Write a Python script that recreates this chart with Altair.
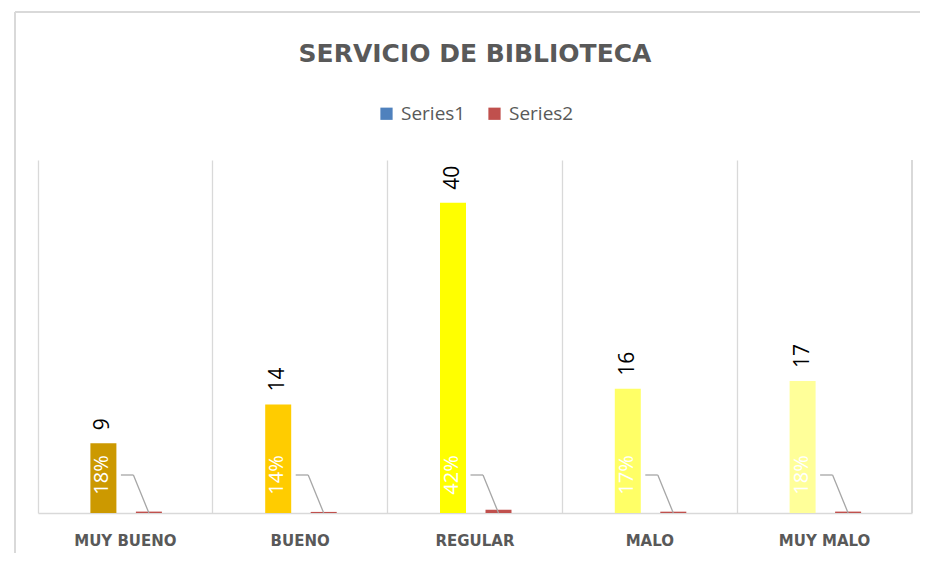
import altair as alt
import pandas as pd

categories = ["MUY BUENO", "BUENO", "REGULAR", "MALO", "MUY MALO"]
series1 = [9, 14, 40, 16, 17]
series2 = [0.18, 0.14, 0.42, 0.17, 0.18]
pct_labels = ["18%", "14%", "42%", "17%", "18%"]
bar_colors = ["#CC9900", "#FFCC00", "#FFFF00", "#FFFF66", "#FFFF99"]
series_names = ["Series1", "Series2"]
legend_colors = ["#4F81BD", "#C0504D"]

df1 = pd.DataFrame({"cat": categories, "value": series1, "color": bar_colors,
                    "pct": pct_labels, "series": "Series1"})
df2 = pd.DataFrame({"cat": categories, "value": series2, "series": "Series2"})

W, H = 874, 353
GRID = "#D9D9D9"
TXT = "#595959"
FONT = "Open Sans"
BOLD_FONT = "DejaVu Sans"

xenc = alt.X("cat:N", sort=categories, title=None,
             scale=alt.Scale(paddingInner=0, paddingOuter=0),
             axis=alt.Axis(labelAngle=0, labelFont=BOLD_FONT, labelFontSize=15,
                           labelFontWeight="bold", labelColor=TXT, labelPadding=20,
                           ticks=False, domainColor=GRID, domainWidth=1.3,
                           grid=True, gridColor=GRID, gridWidth=1.3, bandPosition=0))
yscale = alt.Scale(domain=[0, 45.5], nice=False)
yenc = alt.Y("value:Q", scale=yscale, axis=None)

base1 = alt.Chart(df1)
base2 = alt.Chart(df2)

bars1 = base1.mark_bar(width=26, xOffset=-22).encode(
    x=xenc, y=yenc, fill=alt.Fill("color:N", scale=None))

bars2 = base2.mark_bar(width=26, xOffset=23.5).encode(
    x=alt.X("cat:N", sort=categories), y=alt.Y("value:Q", scale=yscale),
    color=alt.Color("series:N", scale=alt.Scale(domain=series_names, range=legend_colors),
                    legend=alt.Legend(title=None, orient="none", direction="horizontal",
                                      legendX=339, legendY=-56, symbolType="square",
                                      symbolSize=150, labelFont=FONT, labelFontSize=19,
                                      labelColor=TXT, columnPadding=19, labelOffset=5,
                                      symbolStrokeWidth=0)))

val_labels = base1.mark_text(angle=270, align="left", baseline="middle", xOffset=-22,
                             yOffset=-13, font=FONT, fontSize=21, color="#000000").encode(
    x=alt.X("cat:N", sort=categories), y=alt.Y("value:Q", scale=yscale),
    text="value:Q")

pct_text = base1.mark_text(angle=270, align="center", baseline="middle", xOffset=-23,
                           yOffset=-38, font=FONT, fontSize=20, color="#FFFFFF").encode(
    x=alt.X("cat:N", sort=categories), y=alt.datum(0, scale=yscale), text="pct:N")

lead_h = base1.mark_rule(color="#A6A6A6", strokeWidth=1.3, xOffset=-4.5, x2Offset=8,
                         yOffset=-38, y2Offset=-38).encode(
    x=alt.X("cat:N", sort=categories), x2="cat:N",
    y=alt.datum(0, scale=yscale), y2=alt.datum(0))

lead_d = base1.mark_rule(color="#A6A6A6", strokeWidth=1.3, xOffset=8, x2Offset=23.5,
                         yOffset=-38, y2Offset=0).encode(
    x=alt.X("cat:N", sort=categories), x2="cat:N",
    y=alt.datum(0, scale=yscale), y2=alt.datum(0))

right_grid = alt.Chart(df1).mark_rule(color=GRID, strokeWidth=1.3).encode(
    x=alt.value(W), y=alt.value(0), y2=alt.value(H))

frame_top = alt.Chart(df1).mark_rule(color=GRID, strokeWidth=1.5).encode(
    x=alt.value(-23), x2=alt.value(W + 40), y=alt.value(-148))
frame_left = alt.Chart(df1).mark_rule(color=GRID, strokeWidth=1.5).encode(
    x=alt.value(-23), y=alt.value(-148), y2=alt.value(H + 60))

chart = alt.layer(
    frame_top, frame_left, right_grid, bars1, bars2, val_labels, lead_h, lead_d, pct_text
).properties(
    width=W, height=H,
    title=alt.TitleParams("SERVICIO DE BIBLIOTECA", anchor="middle", font=BOLD_FONT,
                          fontSize=25, fontWeight="bold", color=TXT, offset=-56),
    autosize=alt.AutoSizeParams(type="none"),
    padding={"left": 30, "top": 152, "right": 8, "bottom": 40},
).configure_view(stroke=None)

chart.save("out.html", embed_options={"renderer": "svg", "actions": False})
